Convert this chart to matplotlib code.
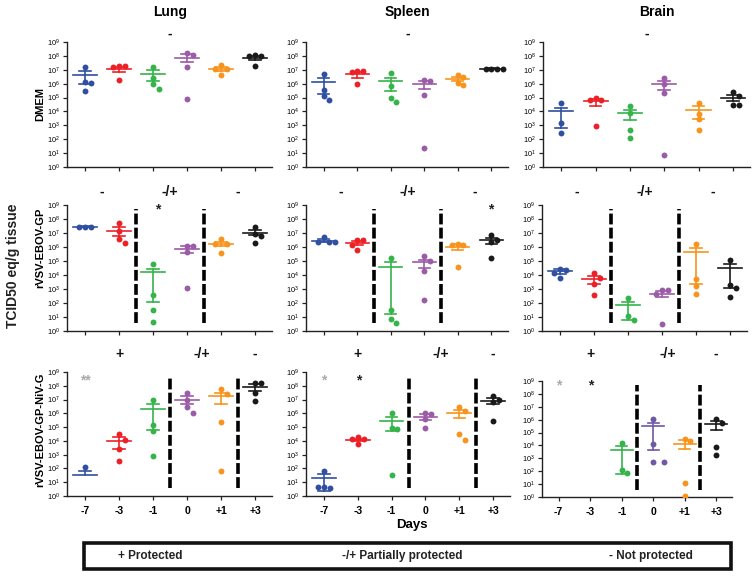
import numpy as np
import matplotlib
matplotlib.use('Agg')
import matplotlib.pyplot as plt
from matplotlib import transforms
from matplotlib.patches import Rectangle

plt.rcParams['font.family'] = ['Liberation Sans', 'DejaVu Sans']
plt.rcParams['mathtext.fontset'] = 'custom'
plt.rcParams['mathtext.rm'] = 'Liberation Sans'
plt.rcParams['mathtext.it'] = 'Liberation Sans:italic'
plt.rcParams['mathtext.bf'] = 'Liberation Sans:bold'

DAYS = ['-7', '-3', '-1', '0', '+1', '+3']
ORGANS = ['Lung', 'Spleen', 'Brain']
TREATMENTS = ['DMEM', 'rVSV-EBOV-GP', 'rVSV-EBOV-GP-NiV-G']
COLORS = ['#2f4fa0', '#ec2027', '#35b44a', '#9c5ba8', '#f7941d', '#1a1a1a']
nan = float('nan')

# ---- data: log10(TCID50 eq/g tissue); one list per day group ----
DMEM_LUNG_PTS = [[7.19, 6.1, 6.08, 5.47], [7.24, 7.24, 7.22, 6.28], [7.2, 6.43, 5.95, 5.64],
                 [8.23, 8.1, 7.2, 4.92], [7.36, 7.07, 7.05, 6.6], [8.03, 8.0, 8.0, 7.24]]
DMEM_LUNG_MEAN = [6.64, 7.03, 6.71, 7.87, 7.07, 7.87]
DMEM_LUNG_LO = [6.0, 6.83, 6.16, 7.53, 6.93, 7.72]
DMEM_LUNG_HI = [6.9, 7.2, 6.95, 8.15, 7.22, 7.99]

DMEM_SPLEEN_PTS = [[6.67, 5.56, 5.08, 4.8], [6.88, 6.88, 6.86, 5.95], [6.76, 5.8, 5.0, 4.68],
                   [6.24, 6.2, 5.2, 1.39], [6.6, 6.47, 6.04, 5.92], [7.09, 7.07, 7.05, 7.07]]
DMEM_SPLEEN_MEAN = [6.12, 6.67, 6.19, 5.95, 6.35, 7.07]
DMEM_SPLEEN_LO = [5.28, 6.43, 5.44, 5.61, 6.18, 7.03]
DMEM_SPLEEN_HI = [6.4, 6.83, 6.43, 6.21, 6.5, 7.11]

DMEM_BRAIN_PTS = [[4.6, 3.17, 2.45], [4.99, 4.84, 4.82, 2.97], [4.36, 3.88, 2.69, 2.11],
                  [6.43, 6.0, 5.32, 0.89], [4.6, 3.84, 3.43, 2.69], [5.4, 5.1, 4.46, 4.48]]
DMEM_BRAIN_MEAN = [4.0, 4.75, 3.91, 6.0, 4.12, 4.99]
DMEM_BRAIN_LO = [2.78, 4.41, 3.4, 5.56, 3.48, 4.75]
DMEM_BRAIN_HI = [4.27, 4.92, 4.12, 6.21, 4.36, 5.16]

EBOV_LUNG_PTS = [[7.45, 7.43, 7.45], [7.68, 7.16, 6.54, 6.3], [4.82, 2.55, 1.53, 0.64],
                 [6.09, 6.07, 5.66, 3.08], [6.54, 6.25, 6.23, 5.54], [7.45, 6.92, 6.78, 6.3]]
EBOV_LUNG_MEAN = [7.45, 7.16, 4.18, 5.85, 6.2, 7.02]
EBOV_LUNG_LO = [7.42, 6.78, 2.08, 5.58, 6.06, 6.85]
EBOV_LUNG_HI = [7.48, 7.45, 4.46, 6.04, 6.37, 7.2]

EBOV_SPLEEN_PTS = [[6.68, 6.37, 6.35, 6.33], [6.49, 6.47, 6.13, 5.82], [5.18, 1.53, 0.88, 0.57],
                   [5.35, 5.01, 4.27, 2.2], [6.2, 6.13, 6.11, 4.58], [6.85, 6.49, 6.37, 5.18]]
EBOV_SPLEEN_MEAN = [6.44, 6.3, 4.58, 4.94, 6.01, 6.49]
EBOV_SPLEEN_LO = [6.35, 6.13, 1.19, 4.51, 5.82, 6.18]
EBOV_SPLEEN_HI = [6.54, 6.44, 4.94, 5.1, 6.18, 6.66]

EBOV_BRAIN_PTS = [[4.46, 4.34, 4.15, 3.82], [4.15, 3.82, 3.34, 2.55], [2.39, 1.07, 0.76],
                  [2.96, 2.91, 2.67, 0.48], [6.25, 3.75, 3.2, 2.67], [5.1, 3.27, 3.1, 2.43]]
EBOV_BRAIN_MEAN = [4.3, 3.75, 1.84, 2.67, 5.66, 4.51]
EBOV_BRAIN_LO = [4.1, 3.34, 0.76, 2.43, 3.39, 3.08]
EBOV_BRAIN_HI = [4.44, 3.94, 2.1, 2.84, 5.94, 4.82]

NIV_LUNG_PTS = [[2.13], [4.49, 4.1, 3.38, 2.54], [6.96, 5.14, 4.71, 2.9],
                [7.51, 7.0, 6.43, 6.04], [7.73, 7.39, 5.39, 1.81], [8.21, 8.21, 7.44, 6.91]]
NIV_LUNG_MEAN = [1.52, 3.99, 6.35, 7.0, 7.25, 7.92]
NIV_LUNG_LO = [nan, 3.38, 4.78, 6.71, 6.71, 7.63]
NIV_LUNG_HI = [1.84, 4.25, 6.67, 7.25, 7.51, 8.16]

NIV_SPLEEN_PTS = [[1.84, 0.68, 0.6, 0.62], [4.25, 4.13, 4.11, 3.77], [6.04, 4.9, 4.88, 1.52],
                  [6.06, 5.94, 5.56, 4.9], [6.47, 6.18, 4.49, 4.1], [7.25, 7.0, 6.84, 5.43]]
NIV_SPLEEN_MEAN = [1.28, 4.06, 5.46, 5.75, 6.04, 6.91]
NIV_SPLEEN_LO = [0.39, 3.97, 4.73, 5.51, 5.63, 6.71]
NIV_SPLEEN_HI = [1.57, 4.15, 5.7, 5.92, 6.23, 7.08]

NIV_BRAIN_PTS = [[], [], [4.21, 2.07, 1.86], [6.02, 4.13, 2.71, 2.71],
                 [4.52, 4.32, 1.09, 0.08], [6.07, 5.76, 3.88, 3.28]]
NIV_BRAIN_MEAN = [nan, nan, 3.62, 5.48, 4.13, 5.63]
NIV_BRAIN_LO = [nan, nan, 1.81, 3.67, 3.75, 5.17]
NIV_BRAIN_HI = [nan, nan, 3.93, 5.76, 4.39, 5.89]

# protection annotations per row: (x position in day units, label)
ROW_MARKS = [[(2.5, '-')],
             [(0.5, '-'), (2.5, '-/+'), (4.5, '-')],
             [(1.0, '+'), (3.45, '-/+'), (5.0, '-')]]
DIVIDERS = [[], [1.5, 3.5], [2.5, 4.5]]
LEGEND_TEXT = ['+ Protected', '-/+ Partially protected', '- Not protected']

PANELS = [
    [(DMEM_LUNG_PTS, DMEM_LUNG_MEAN, DMEM_LUNG_LO, DMEM_LUNG_HI),
     (DMEM_SPLEEN_PTS, DMEM_SPLEEN_MEAN, DMEM_SPLEEN_LO, DMEM_SPLEEN_HI),
     (DMEM_BRAIN_PTS, DMEM_BRAIN_MEAN, DMEM_BRAIN_LO, DMEM_BRAIN_HI)],
    [(EBOV_LUNG_PTS, EBOV_LUNG_MEAN, EBOV_LUNG_LO, EBOV_LUNG_HI),
     (EBOV_SPLEEN_PTS, EBOV_SPLEEN_MEAN, EBOV_SPLEEN_LO, EBOV_SPLEEN_HI),
     (EBOV_BRAIN_PTS, EBOV_BRAIN_MEAN, EBOV_BRAIN_LO, EBOV_BRAIN_HI)],
    [(NIV_LUNG_PTS, NIV_LUNG_MEAN, NIV_LUNG_LO, NIV_LUNG_HI),
     (NIV_SPLEEN_PTS, NIV_SPLEEN_MEAN, NIV_SPLEEN_LO, NIV_SPLEEN_HI),
     (NIV_BRAIN_PTS, NIV_BRAIN_MEAN, NIV_BRAIN_LO, NIV_BRAIN_HI)],
]

W, H = 754, 577
fig = plt.figure(figsize=(W / 100, H / 100), dpi=100)


def px_axes(l, t, r, b):
    return fig.add_axes([l / W, 1 - b / H, (r - l) / W, (b - t) / H])


ROW_TB = [(42, 167), (205, 331), (372, 496)]
COL_LR = [(67, 272), (306, 508), (543, 750)]
AX_BOX = {}
for r in range(3):
    for c in range(3):
        l, rr = COL_LR[c]
        t, b = ROW_TB[r]
        if r == 1 and c == 2:
            l, rr = 542, 747
        if r == 2 and c == 1:
            rr = 510
        if r == 2 and c == 2:
            l, rr, t, b = 542, 732, 381, 497
        AX_BOX[(r, c)] = (l, t, rr, b)


def swarm(vals, pxw, pxh):
    placed = []
    offs = []
    for v in vals:
        for cand in [0, 0.17, -0.17, 0.34, -0.34, 0.5]:
            ok = True
            for (pv, po) in placed:
                if np.hypot((cand - po) * pxw, (v - pv) * pxh) < 5.5:
                    ok = False
                    break
            if ok:
                break
        placed.append((v, cand))
        offs.append(cand)
    return offs


axes = {}
for r in range(3):
    for c in range(3):
        l, t, rr, b = AX_BOX[(r, c)]
        ax = px_axes(l, t, rr, b)
        axes[(r, c)] = ax
        pts, mean, lo, hi = PANELS[r][c]
        pxw = (rr - l) / 6.03
        pxh = (b - t) / 9.0
        for i in range(6):
            col = COLORS[i]
            if r == 2 and c == 2 and i == 3:
                col = '#6f58a6'
            vals = pts[i]
            if len(vals):
                offs = swarm(vals, pxw, pxh)
                ax.scatter([i + o for o in offs], [10 ** v for v in vals], s=18,
                           color=col, zorder=3, linewidths=0)
            m = mean[i]
            if not np.isnan(m):
                ax.plot([i - 0.35, i + 0.35], [10 ** m] * 2, color=col, lw=1.2, zorder=2)
                top = hi[i]
                bot = lo[i] if not np.isnan(lo[i]) else m
                ax.plot([i, i], [10 ** bot, 10 ** top], color=col, lw=1.2, zorder=2)
                ax.plot([i - 0.17, i + 0.17], [10 ** top] * 2, color=col, lw=1.2, zorder=2)
                if not np.isnan(lo[i]):
                    ax.plot([i - 0.17, i + 0.17], [10 ** lo[i]] * 2, color=col, lw=1.2, zorder=2)
        for xd in DIVIDERS[r]:
            ax.plot([xd, xd], [10 ** 0.55, 10 ** 8.7], color='black', lw=2.6,
                    linestyle=(0, (3.0, 0.9)), zorder=4)
        ax.set_yscale('log')
        ax.set_ylim(1, 1e9)
        ax.set_xlim(-0.53, 5.5)
        ax.set_yticks([10 ** k for k in range(10)])
        ax.yaxis.set_minor_locator(matplotlib.ticker.NullLocator())
        ax.set_yticklabels([r'$\mathregular{10^{%d}}$' % k for k in range(10)], fontsize=5.3)
        ax.set_xticks(range(6))
        if r == 2:
            ax.set_xticklabels(DAYS, fontsize=7.5, fontweight='bold')
        else:
            ax.set_xticklabels([])
        for s in ['top', 'right']:
            ax.spines[s].set_visible(False)
        for s in ['left', 'bottom']:
            ax.spines[s].set_linewidth(1.0)
            ax.spines[s].set_color('#222222')
        ax.tick_params(axis='both', length=3, width=0.9, color='#222222', pad=2)
        ax.tick_params(axis='x', pad=4)
        ax.patch.set_alpha(0)

        # protection marks
        row_y = [34, 192, 354][r]
        tr = transforms.blended_transform_factory(ax.transData, fig.transFigure)
        for (xm, lab) in ROW_MARKS[r]:
            ax.text(xm, 1 - row_y / H, lab, transform=tr, ha='center', va='center',
                    fontsize=10, fontweight='bold', color='#111111')


def star(ax, xd, ypx, s, col):
    tr = transforms.blended_transform_factory(ax.transData, fig.transFigure)
    ax.text(xd, 1 - ypx / H, s, transform=tr, ha='center', va='center',
            fontsize=10, fontweight='bold', color=col)


star(axes[(1, 0)], 2.15, 209, '*', '#222222')
star(axes[(1, 1)], 4.97, 209, '*', '#222222')
star(axes[(2, 0)], 0.0, 380, '**', '#aaaaaa')
star(axes[(2, 1)], 0.0, 380, '*', '#aaaaaa')
star(axes[(2, 1)], 1.02, 380, '*', '#222222')
star(axes[(2, 2)], 0.0, 385, '*', '#aaaaaa')
star(axes[(2, 2)], 1.0, 385, '*', '#222222')

# column titles
for c, xp in enumerate([170, 407, 657]):
    fig.text(xp / W, 1 - 12 / H, ORGANS[c], ha='center', va='center',
             fontsize=10, fontweight='bold')

# row labels
for r, yp in enumerate([104, 248, 430]):
    fig.text(40 / W, 1 - yp / H, TREATMENTS[r], rotation=90, ha='center', va='center',
             fontsize=8, fontweight='bold')
fig.text(13 / W, 1 - 266 / H, 'TCID50 eq/g tissue', rotation=90, ha='center', va='center',
         fontsize=10, fontweight='bold', color='#222222')

fig.text(412 / W, 1 - 525 / H, 'Days', ha='center', va='center', fontsize=9.5,
         fontweight='bold')

# legend box
fig.patches.append(Rectangle((84 / W, 1 - 569 / H), (731 - 84) / W, (569 - 543) / H,
                             transform=fig.transFigure, fill=False, lw=2.6,
                             edgecolor='#111111'))
for xp, txt in zip([150, 402, 651], LEGEND_TEXT):
    fig.text(xp / W, 1 - 556 / H, txt, ha='center', va='center', fontsize=8.5,
             fontweight='bold', color='#222222')

fig.savefig('out.png', dpi=100)
